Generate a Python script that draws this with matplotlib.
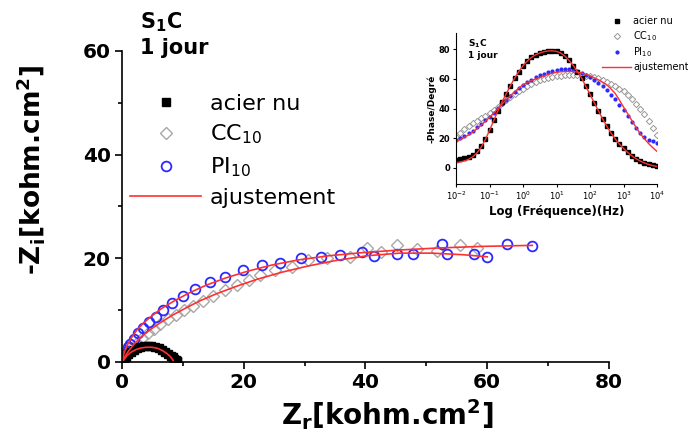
import numpy as np
import matplotlib.pyplot as plt
from matplotlib.ticker import MultipleLocator, NullLocator

# --- Nyquist data (kohm.cm2) ---
acier_zr = [0.3, 0.6, 1.0, 1.4, 1.9, 2.4, 3.0, 3.6, 4.2, 4.8, 5.4, 6.0, 6.6, 7.1, 7.6, 8.0, 8.3, 8.6, 8.8, 9.0, 9.1]
acier_zi = [0.3, 0.9, 1.5, 2.0, 2.4, 2.7, 2.95, 3.1, 3.15, 3.1, 2.95, 2.7, 2.35, 2.0, 1.6, 1.2, 0.9, 0.6, 0.4, 0.2, 0.1]

cc_zr = [0.3, 0.7, 1.2, 1.8, 2.5, 3.3, 4.2, 5.2, 6.3, 7.5, 8.8, 10.2, 11.7, 13.3, 15.0, 16.9,
         18.9, 20.9, 22.7, 25.1, 27.9, 30.6, 33.6, 37.4, 40.2, 42.6, 45.1, 48.5, 51.8, 55.5, 58.3]
cc_zi = [0.5, 1.2, 2.0, 2.8, 3.7, 4.6, 5.5, 6.4, 7.3, 8.2, 9.1, 10.0, 10.9, 11.8, 12.8, 13.8,
         14.9, 15.9, 16.8, 17.8, 18.4, 19.7, 20.0, 20.3, 21.9, 21.2, 22.6, 21.8, 21.4, 22.6, 21.9]

pi_zr = [0.05, 0.15, 0.3, 0.5, 0.75, 1.0, 1.35, 1.94, 2.71, 3.53, 4.47, 5.59, 6.82, 8.29, 10.0, 12.0,
         14.47, 16.94, 19.88, 22.94, 25.88, 29.47, 32.65, 35.88, 39.35, 41.41, 45.24, 47.88,
         52.65, 53.41, 57.82, 59.94, 63.24, 67.35]
pi_zi = [0.15, 0.45, 0.9, 1.5, 2.2, 2.9, 3.51, 4.47, 5.56, 6.58, 7.67, 8.63, 10.03, 11.31, 12.78, 14.06,
         15.53, 16.42, 17.70, 18.66, 19.17, 20.0, 20.26, 20.58, 21.28, 20.45, 20.77, 20.89,
         22.68, 20.77, 20.89, 20.26, 22.81, 22.43]

fit_acier_zr = [0.0, 0.3, 0.8, 1.5, 2.3, 3.1, 4.0, 4.9, 5.8, 6.6, 7.3, 7.9, 8.3, 8.5]
fit_acier_zi = [0.0, 0.4, 1.2, 1.9, 2.4, 2.7, 2.85, 2.85, 2.65, 2.25, 1.7, 1.1, 0.5, 0.1]

fit_pi_zr = [0, 0.3, 0.8, 1.5, 2.4, 3.5, 4.9, 6.6, 8.6, 11.0, 13.8, 17.0, 20.6, 24.6, 29.0, 34.0, 39.5, 45.5, 52, 59, 67.4]
fit_pi_zi = [0, 1.6, 3.1, 4.6, 6.1, 7.5, 8.9, 10.4, 11.8, 13.3, 14.8, 16.2, 17.5, 18.7, 19.7, 20.5, 21.1, 21.6, 22.0, 22.3, 22.5]

fit_cc_zr = [0, 0.5, 1.2, 2.1, 3.2, 4.6, 6.2, 8.1, 10.3, 12.8, 15.6, 18.8, 22.3, 26.2, 30.5, 35.2, 40.3, 45.6, 51, 56, 60]
fit_cc_zi = [0, 1.1, 2.3, 3.6, 4.9, 6.2, 7.5, 8.9, 10.3, 11.8, 13.2, 14.6, 16.0, 17.3, 18.5, 19.6, 20.5, 21.0, 21.0, 20.7, 20.3]

# --- Bode phase data (8 points per decade, 1e-2 .. 1e4 Hz) ---
freq = np.logspace(-2, 4, 49)
phase_acier = [5.5, 5.8, 6.3, 7.2, 8.6, 11.0, 14.5, 19.5, 25.5, 32, 38.5, 44.5, 50, 55.5, 60.5, 65,
               69, 72, 74.5, 76.3, 77.5, 78.4, 78.9, 79.0, 78.6, 77.5, 75.5, 72.5, 69, 65, 60.5, 55,
               49.5, 44, 38.5, 33, 28, 23.5, 19.5, 16, 13, 10.3, 8.1, 6.2, 4.6, 3.4, 2.4, 1.6, 1.0]
phase_cc = [21, 23.5, 26, 28, 30, 31.8, 33.5, 35.2, 37, 39, 41.2, 43.6, 46, 48, 50, 51.8,
            53.5, 55, 56.5, 57.8, 59, 60, 60.8, 61.5, 62, 62.3, 62.5, 62.6, 62.6, 62.6, 62.5, 62.3,
            62, 61.3, 60.5, 59.3, 58, 56.5, 55, 53.3, 51.5, 49, 46.3, 43.3, 40, 36, 31.5, 27, 22]
phase_pi = [19, 20.2, 21.6, 23.2, 25, 27.2, 29.5, 32, 34.5, 37.3, 40.2, 43.1, 46, 48.7, 51.3, 53.8,
            56, 57.9, 59.6, 61.1, 62.5, 63.6, 64.6, 65.4, 66, 66.4, 66.6, 66.5, 66, 65.2, 64.1, 62.9,
            61.5, 59.6, 57.5, 55.1, 52.5, 49.4, 46.1, 42.6, 39, 35, 31, 27, 23.5, 20.8, 19, 17.8, 17]
phase_fit_acier = [3.4, 3.9, 4.6, 5.7, 7.4, 10.0, 13.8, 19.0, 25.2, 31.8, 38.4, 44.5, 50, 55.5, 60.5, 65,
                   69, 72, 74.5, 76.3, 77.5, 78.4, 78.9, 79.0, 78.6, 77.5, 75.5, 72.5, 69, 65, 60.5, 55,
                   49.5, 44, 38.5, 33, 28, 23.5, 19.5, 16, 13, 10.3, 8.0, 6.1, 4.5, 3.2, 2.2, 1.4, 0.8]
phase_fit = [17.6, 19, 20.5, 22.2, 24, 26.3, 28.8, 31.4, 34, 37, 40, 43, 46, 48.7, 51.4, 53.8,
             56, 57.5, 58.9, 60, 61, 62, 63, 63.8, 64.5, 64.8, 65, 65.1, 65, 64.6, 64, 63.1,
             62, 60.8, 59.4, 57.8, 56, 53.3, 50.2, 45.8, 41, 36.5, 31.8, 27.2, 23, 19.5, 16.3, 13.5, 11]

RED = '#ff3030'
BLUE = '#2a2aff'
GRAY = '#a8a8a8'

fig = plt.figure(figsize=(6.88, 4.34), dpi=100)
ax = fig.add_axes([0.1773, 0.1659, 0.7078, 0.7166])

h_cc, = ax.plot(cc_zr, cc_zi, 'D', ms=6, mfc='none', mec=GRAY, mew=1.0, ls='none')
h_pi, = ax.plot(pi_zr, pi_zi, 'o', ms=7, mfc='none', mec=BLUE, mew=1.3, ls='none')
h_ac, = ax.plot(acier_zr, acier_zi, 's', ms=6, color='black', ls='none')
h_fit, = ax.plot(fit_pi_zr, fit_pi_zi, '-', color=RED, lw=1.2)
ax.plot(fit_cc_zr, fit_cc_zi, '-', color=RED, lw=1.2)
ax.plot(fit_acier_zr, fit_acier_zi, '-', color=RED, lw=1.2)

ax.set_xlim(0, 80)
ax.set_ylim(0, 60)
ax.spines['top'].set_visible(False)
ax.spines['right'].set_visible(False)
for s in ('left', 'bottom'):
    ax.spines[s].set_linewidth(1.2)
ax.xaxis.set_major_locator(MultipleLocator(20))
ax.xaxis.set_minor_locator(MultipleLocator(10))
ax.yaxis.set_major_locator(MultipleLocator(20))
ax.yaxis.set_minor_locator(MultipleLocator(10))
ax.tick_params(which='major', direction='out', length=5, width=1.2, labelsize=14.5, pad=3)
ax.tick_params(which='minor', direction='out', length=3, width=1.2)
for lab in ax.get_xticklabels() + ax.get_yticklabels():
    lab.set_fontweight('bold')

ax.set_xlabel('Z$_\\mathbf{r}$[kohm.cm$^\\mathbf{2}$]', fontsize=20, fontweight='bold')
ax.set_ylabel('-Z$_\\mathbf{i}$[kohm.cm$^\\mathbf{2}$]', fontsize=19, fontweight='bold')
ax.xaxis.set_label_coords(0.544, -0.115)
ax.yaxis.set_label_coords(-0.155, 0.617)

fig.text(140 / 688, 1 - 10 / 434, 'S$_\\mathbf{1}$C\n1 jour', fontsize=15, fontweight='bold',
         va='top', ha='left', linespacing=1.3)

ax.legend([h_ac, h_cc, h_pi, h_fit], ['acier nu', 'CC$_{10}$', 'PI$_{10}$', 'ajustement'],
          loc='upper left', bbox_to_anchor=(130 / 688, 1 - 94 / 434), bbox_transform=fig.transFigure,
          frameon=False, borderpad=0, borderaxespad=0, handlelength=3.2, handletextpad=0.4,
          labelspacing=0.4, fontsize=16)

# --- inset ---
axi = fig.add_axes([0.6628, 0.576, 0.2922, 0.3479])
axi.plot(freq, phase_cc, 'D', ms=3.2, mfc='white', mec='#999999', mew=0.7, ls='none', label='CC$_{10}$')
axi.plot(freq, phase_pi, 'o', ms=2, color=BLUE, ls='none', label='PI$_{10}$')
axi.plot(freq, phase_acier, 's', ms=3.2, color='black', ls='none', label='acier nu')
axi.plot(freq, phase_fit_acier, '-', color=RED, lw=1.0, label='ajustement')
axi.plot(freq, phase_fit, '-', color=RED, lw=1.0)
axi.set_xscale('log')
axi.set_xlim(1e-2, 1e4)
axi.set_ylim(-11, 91)
axi.xaxis.set_minor_locator(NullLocator())
axi.yaxis.set_major_locator(MultipleLocator(20))
axi.spines['top'].set_visible(False)
axi.spines['right'].set_visible(False)
axi.tick_params(direction='out', length=2.5, width=0.8, labelsize=6, pad=1.5)
for lab in axi.get_yticklabels():
    lab.set_fontweight('bold')
axi.set_xlabel('Log (Fréquence)(Hz)', fontsize=8.5, fontweight='bold', labelpad=2)
axi.set_ylabel('-Phase/Degré', fontsize=6.5, fontweight='bold', labelpad=2)
axi.text(0.06, 0.97, 'S$_\\mathbf{1}$C\n1 jour', transform=axi.transAxes, fontsize=6.5,
         fontweight='bold', va='top', ha='left')
hs, ls = axi.get_legend_handles_labels()
order = [2, 0, 1, 3]
axi.legend([hs[i] for i in order], [ls[i] for i in order], loc='upper left',
           bbox_to_anchor=(602 / 688, 1 - 16 / 434), bbox_transform=fig.transFigure,
           frameon=False, borderpad=0, borderaxespad=0, handlelength=3.0, handletextpad=0.2,
           labelspacing=0.3, fontsize=7)

fig.savefig('out.png', dpi=100)
